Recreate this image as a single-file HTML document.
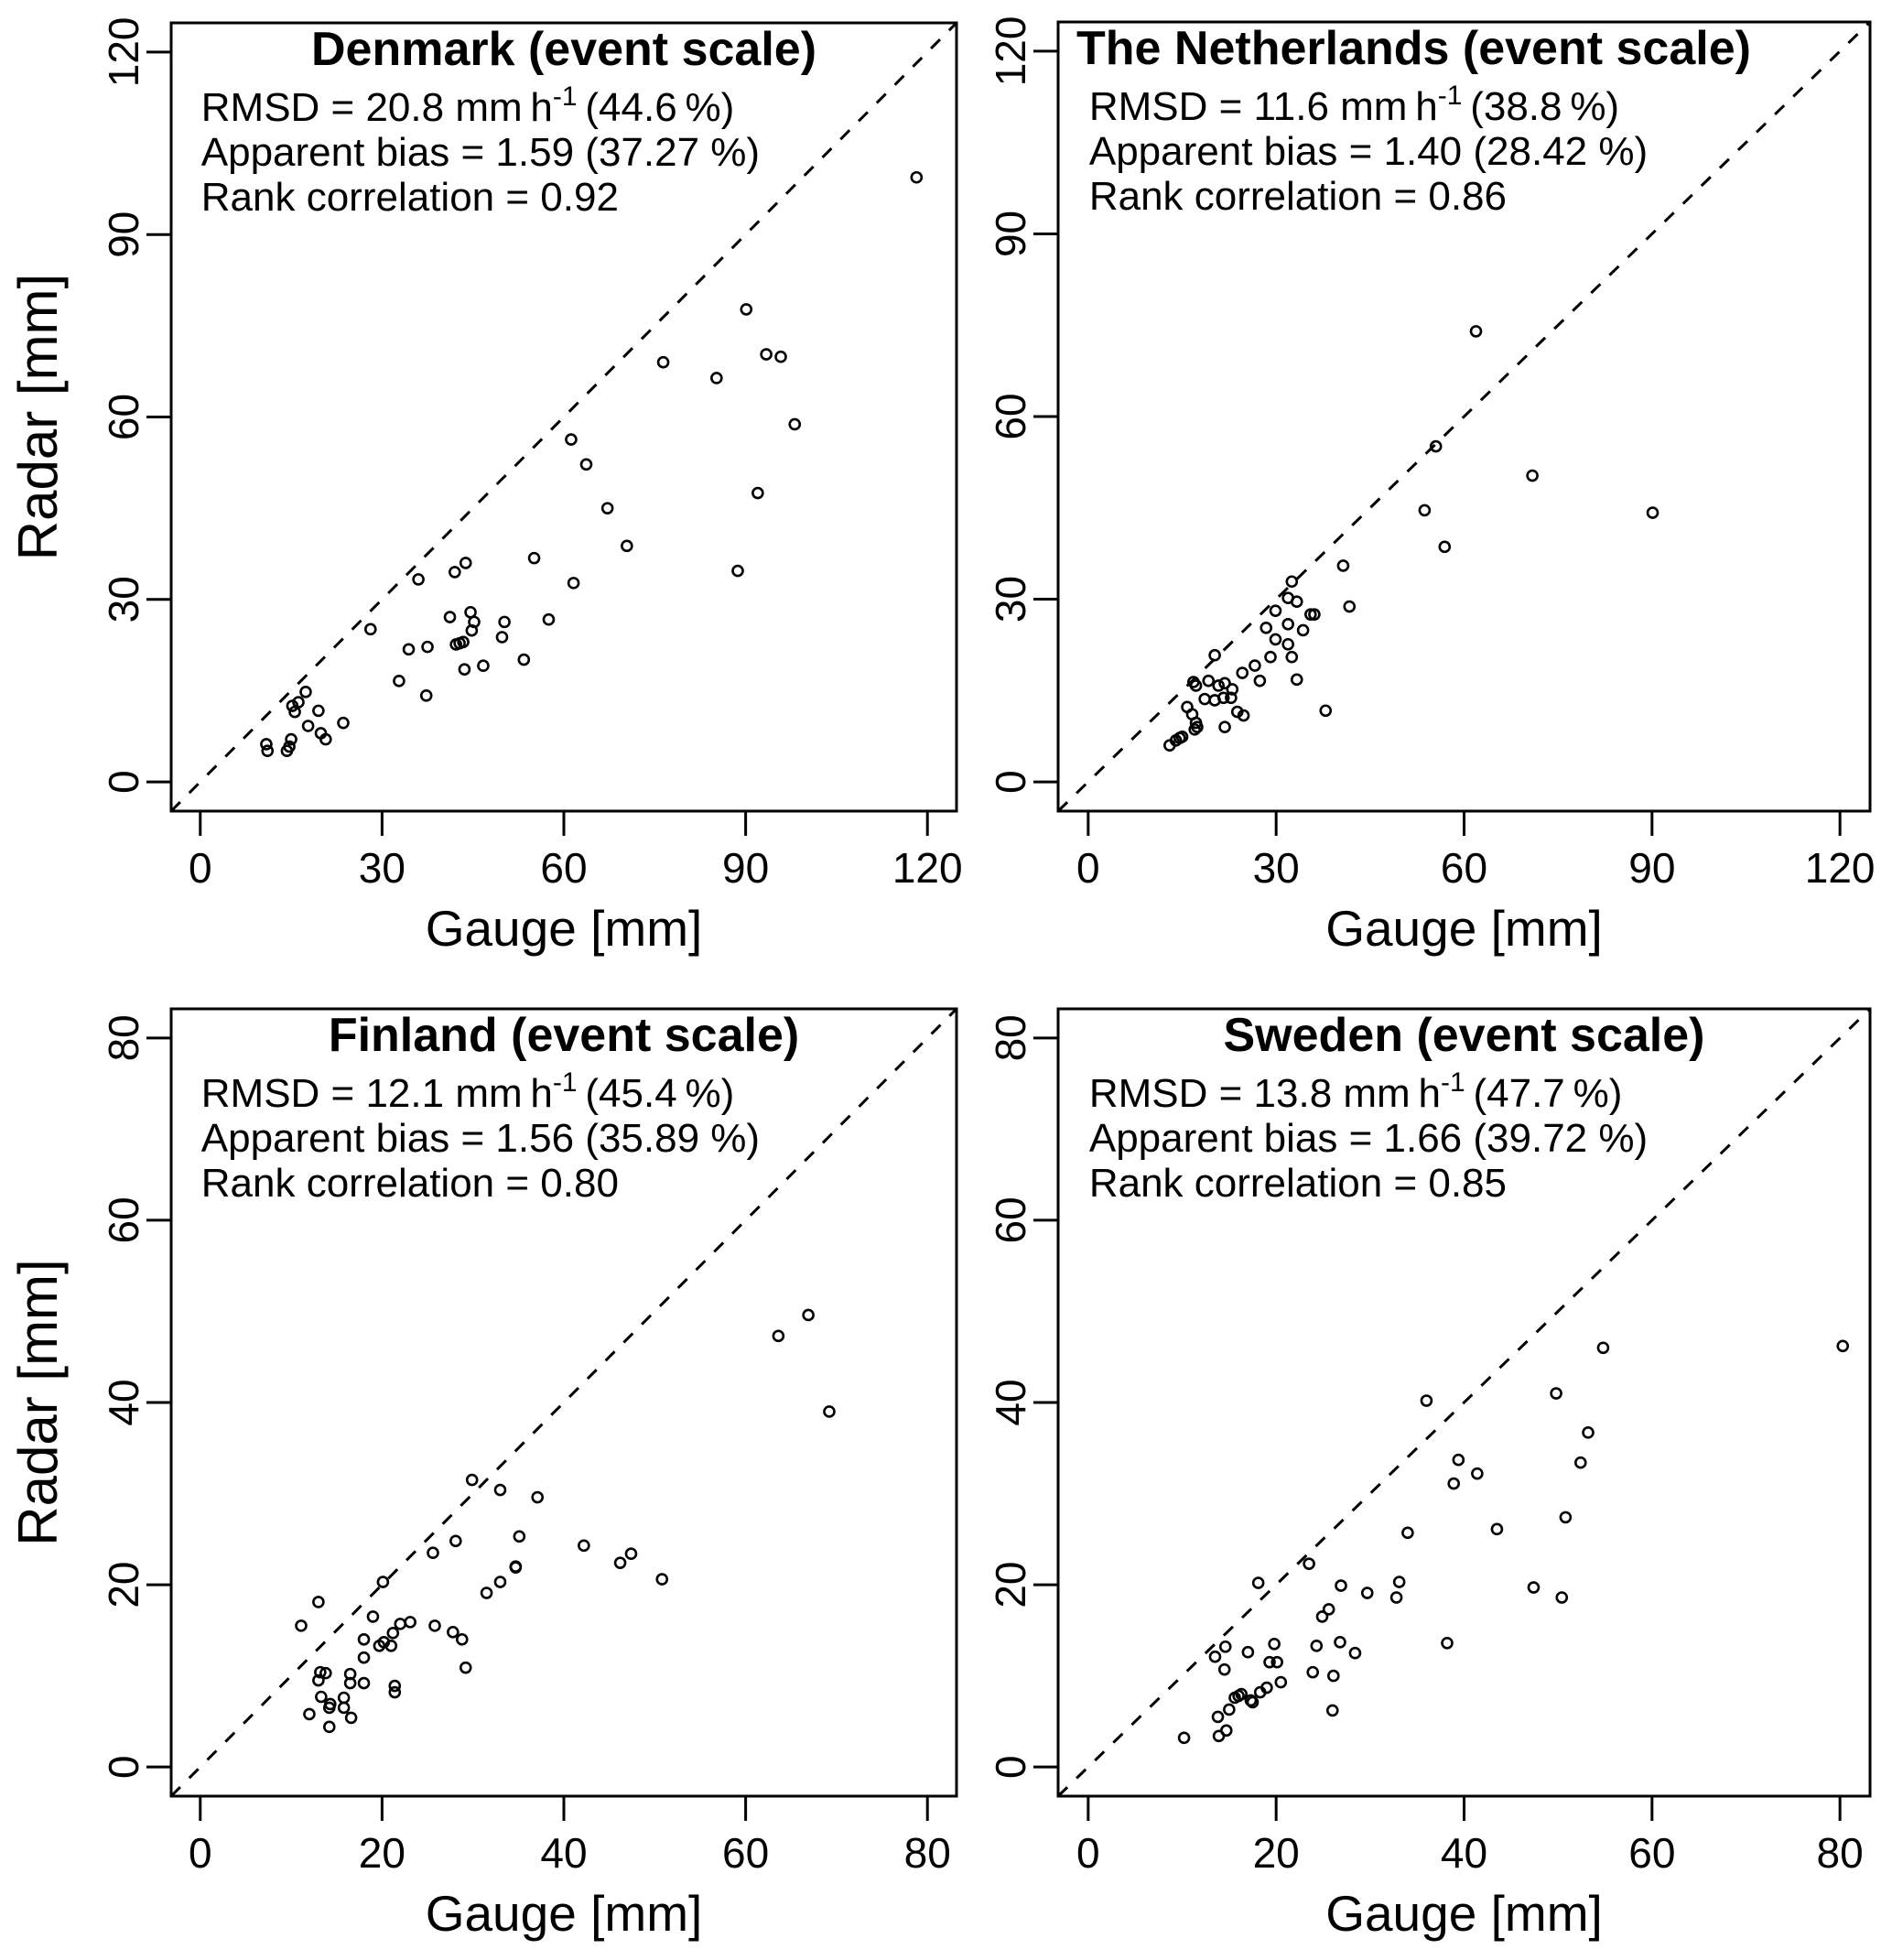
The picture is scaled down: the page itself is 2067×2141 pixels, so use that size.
<!DOCTYPE html>
<html><head><meta charset="utf-8"><style>
html,body{margin:0;padding:0;background:#fff}
svg{display:block;font-family:"Liberation Sans",Arial,sans-serif}
</style></head><body>
<svg id="chart" width="2067" height="2141" viewBox="0 0 2067 2141" xmlns="http://www.w3.org/2000/svg"></svg>
<script>
const dkGauge=[118.2,90.1,76.4,85.2,93.4,95.8,98.1,92.0,88.7,61.2,63.7,67.2,70.4,61.6,55.1,57.5,53.4,50.2,49.8,44.6,45.2,44.8,43.8,42.0,41.2,42.8,43.4,42.2,43.6,46.7,36.0,34.4,37.5,32.8,37.3,28.1,23.6,19.5,17.4,16.2,15.2,15.6,17.8,19.9,20.7,15.0,14.7,14.3,10.9,11.1];
const dkRadar=[99.4,77.7,69.0,66.4,70.3,69.9,58.8,47.5,34.7,56.3,52.2,45.0,38.8,32.7,36.8,26.7,20.1,26.3,23.8,27.9,26.3,24.9,36.0,34.5,27.1,22.8,23.0,22.6,18.5,19.1,33.3,21.8,22.2,16.6,14.2,25.1,9.7,11.7,14.8,13.1,12.5,11.5,9.2,8.0,7.0,7.0,5.8,5.1,6.2,5.1];
const nlGauge=[61.9,70.9,90.1,55.5,53.7,56.9,40.7,41.7,37.9,32.5,31.9,33.3,35.5,36.1,34.3,31.9,29.9,28.4,29.9,31.9,32.5,29.1,33.3,27.4,26.6,24.6,23.0,21.8,20.2,20.8,19.2,18.6,20.2,21.6,22.8,23.8,24.8,21.8,17.2,16.8,15.8,16.6,17.2,17.4,17.0,15.0,14.6,14.0,13.0];
const nlRadar=[74.0,50.3,44.2,55.1,44.6,38.6,35.5,28.8,11.7,32.9,30.2,29.6,27.5,27.5,24.9,25.9,28.1,25.3,23.4,22.6,20.5,20.5,16.8,16.6,19.1,17.9,15.2,16.2,20.8,15.8,16.6,13.6,13.4,13.8,13.8,11.5,10.9,9.0,15.8,16.4,12.3,11.1,9.7,9.0,8.6,7.4,7.2,6.8,6.0];
const fiGauge=[63.6,66.9,69.2,50.8,47.4,46.2,42.2,37.1,33.0,29.9,35.1,34.7,34.7,33.0,31.5,28.1,25.6,29.2,28.8,27.8,25.8,23.1,22.0,21.2,21.0,20.2,19.7,20.1,19.0,18.0,18.0,21.4,21.4,18.0,16.5,16.5,15.8,16.6,15.8,14.3,14.2,13.3,13.8,13.2,13.0,13.0,11.1,12.0,14.2];
const fiRadar=[47.3,49.6,39.0,20.6,23.4,22.4,24.3,29.6,30.4,31.5,25.3,22.0,21.9,20.3,19.1,24.8,23.5,10.9,14.0,14.8,15.5,15.9,15.7,14.7,13.3,13.7,13.3,20.3,16.5,14.0,12.0,8.9,8.2,9.2,10.2,9.2,7.6,5.4,6.5,6.9,4.4,7.7,10.3,10.4,9.5,18.1,15.5,5.8,6.5];
const seGauge=[80.3,54.8,49.8,53.2,52.4,50.8,50.4,47.4,43.5,41.4,39.4,38.9,36.0,38.2,34.0,33.1,32.8,29.7,26.9,23.5,18.1,25.6,24.9,26.8,28.4,24.3,23.9,26.1,26.0,19.8,19.3,20.1,20.5,19.0,18.3,17.0,14.6,13.5,14.5,16.3,16.0,15.6,17.3,17.5,15.0,13.8,14.7,13.9,10.2];
const seRadar=[46.2,46.0,41.0,36.7,33.4,27.4,18.6,19.7,26.1,32.2,33.7,31.1,40.2,13.6,25.7,20.3,18.6,19.1,19.9,22.3,20.2,17.3,16.5,13.7,12.5,13.3,10.4,10.0,6.2,13.5,11.5,11.5,9.3,8.7,8.2,12.6,13.2,12.1,10.7,8.0,7.8,7.6,7.3,7.1,6.3,5.5,4.0,3.4,3.2];
const ticks120=[0,30,60,90,120];
const ticks80=[0,20,40,60,80];
const titles=["Denmark (event scale)","The Netherlands (event scale)","Finland (event scale)","Sweden (event scale)"];
const rmsd=["20.8","11.6","12.1","13.8"];
const rmsdPct=["44.6","38.8","45.4","47.7"];
const bias=["1.59 (37.27 %)","1.40 (28.42 %)","1.56 (35.89 %)","1.66 (39.72 %)"];
const rankCorr=["0.92","0.86","0.80","0.85"];

const NS="http://www.w3.org/2000/svg";
const svg=document.getElementById('chart');
function mk(tag,attrs,parent,text){const e=document.createElementNS(NS,tag);for(const k in attrs)e.setAttribute(k,attrs[k]);if(text!==undefined)e.textContent=text;(parent||svg).appendChild(e);return e;}

const panels=[
 {key:'denmark',L:187,R:1045,T:25,B:886,max:120,ticks:ticks120,gx:dkGauge,gy:dkRadar,ylab:true,tdx:0},
 {key:'netherlands',L:1156,R:2043,T:24,B:886,max:120,ticks:ticks120,gx:nlGauge,gy:nlRadar,ylab:false,tdx:-55},
 {key:'finland',L:187,R:1045,T:1102,B:1962,max:80,ticks:ticks80,gx:fiGauge,gy:fiRadar,ylab:true,tdx:0},
 {key:'sweden',L:1156,R:2043,T:1102,B:1962,max:80,ticks:ticks80,gx:seGauge,gy:seRadar,ylab:false,tdx:0}
];
panels.forEach((p,i)=>{
 const g=mk('g',{});
 
 
 const lo=-0.04*p.max, hi=1.04*p.max;
 const sx=v=>p.L+(v-lo)/(hi-lo)*(p.R-p.L);
 const sy=v=>p.B-(v-lo)/(hi-lo)*(p.B-p.T);
 const dl=mk('line',{x1:sx(lo),y1:sy(lo),x2:sx(hi),y2:sy(hi),stroke:'#000','stroke-width':3,'stroke-dasharray':'14 14'},g);
 
 
 const bx=mk('rect',{x:p.L,y:p.T,width:p.R-p.L,height:p.B-p.T,fill:'none',stroke:'#000','stroke-width':3},g);
 
 
 p.ticks.forEach(t=>{
  mk('line',{x1:sx(t),y1:p.B,x2:sx(t),y2:p.B+27,stroke:'#000','stroke-width':3},g);
  const xl=mk('text',{x:sx(t),y:p.B+78,'font-size':46,'text-anchor':'middle'},g,String(t));
  
  
  mk('line',{x1:p.L-27,y1:sy(t),x2:p.L,y2:sy(t),stroke:'#000','stroke-width':3},g);
  const yl=mk('text',{x:0,y:0,'font-size':46,'text-anchor':'middle',transform:`translate(${p.L-36},${sy(t)}) rotate(-90)`},g,String(t));
  
  
 });
 const xt=mk('text',{x:(p.L+p.R)/2,y:p.B+147,'font-size':55,'text-anchor':'middle'},g,'Gauge [mm]');
 
 
 if(p.ylab){
  const yt=mk('text',{x:0,y:0,'font-size':60,'text-anchor':'middle',transform:`translate(62,${(p.T+p.B)/2}) rotate(-90)`},g,'Radar [mm]');
  
  
 }
 const tt=mk('text',{x:(p.L+p.R)/2+p.tdx,y:p.T+46,'font-size':52,'font-weight':'bold','text-anchor':'middle'},g,titles[i]);
 
 
 const tx=sx(0)+1;
 const s1=mk('text',{x:tx,y:p.T+107,'font-size':44},g);
 
 
 mk('tspan',{},s1,'RMSD = '+rmsd[i]+' mm\u2009h');
 mk('tspan',{'font-size':30,dy:-17},s1,'-1');
 mk('tspan',{dy:17},s1,'\u2009('+rmsdPct[i]+'\u2009%)');
 const s2=mk('text',{x:tx,y:p.T+156,'font-size':44},g,'Apparent bias = '+bias[i]);
 
 
 const s3=mk('text',{x:tx,y:p.T+205,'font-size':44},g,'Rank correlation = '+rankCorr[i]);
 
 
 p.gx.forEach((v,j)=>{
  const c=mk('circle',{cx:sx(v),cy:sy(p.gy[j]),r:5.5,fill:'none',stroke:'#000','stroke-width':2.6},g);
  
  
 });
});
</script>
</body></html>
